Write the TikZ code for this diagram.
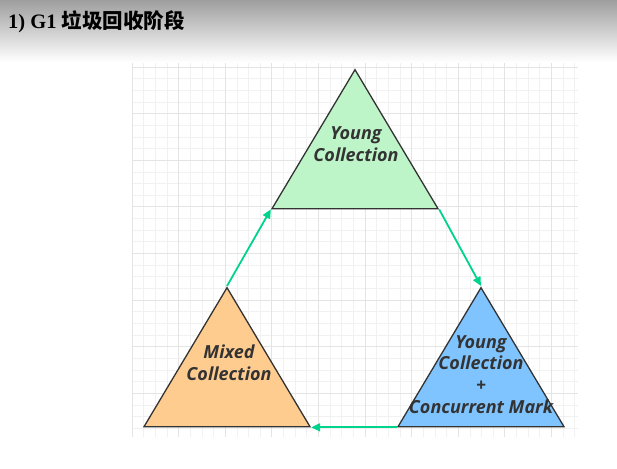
\documentclass[tikz,border=0pt]{standalone}
\usepackage{fontspec}
\setmainfont{Liberation Serif}
\newfontfamily\phasefont{Open Sans}
\newfontfamily\cjkfont{Noto Sans CJK SC}
\usetikzlibrary{arrows.meta,shapes.geometric}
\definecolor{youngfill}{RGB}{190,245,200}
\definecolor{mixedfill}{RGB}{255,204,143}
\definecolor{markfill}{RGB}{128,196,255}
\definecolor{flowgreen}{RGB}{0,212,140}
\definecolor{textdark}{RGB}{51,51,51}
\definecolor{gridminor}{RGB}{241,241,241}
\definecolor{gridmajor}{RGB}{228,228,228}

\begin{document}
\begin{tikzpicture}[
  x=1pt, y=-1pt,
  phase/.style={isosceles triangle, isosceles triangle stretches,
                shape border rotate=90, anchor=apex,
                draw=textdark, line width=1.3pt,
                minimum width=166pt, minimum height=139pt, inner sep=0pt},
  lbl/.style={font=\phasefont\bfseries\itshape\fontsize{18}{21.7}\selectfont,
              text=textdark, align=center},
  flow/.style={-{Triangle[length=9pt,width=8pt]}, line width=1.8pt, flowgreen}
]
\useasboundingbox (0,0) rectangle (617,468);
\fill[top color=black!38, bottom color=white] (0,0) rectangle (617,62);
\node[anchor=west, inner sep=0pt, font=\bfseries\fontsize{20.5}{24}\selectfont] (title)
  at (8,22) {1) G1 {\cjkfont 垃圾回收阶段}};

% background grid
\begin{scope}[shift={(132,67)}]
\draw[gridminor, line width=0.7pt, step=11.65pt] (0,-4) grid (446,370);
\draw[gridmajor, line width=0.7pt, step=46.6pt] (0,-4) grid (446,370);
\end{scope}

\node[phase, fill=youngfill] (young) at (355,68) {};
\node[phase, fill=markfill]  (mark)  at (481,286) {};
\node[phase, fill=mixedfill] (mixed) at (227,286) {};

\node[lbl] (youngtext) at (356,144)   {Young\\Collection};
\node[lbl] (marktext)  at (481,374.5) {Young\\Collection\\+\\Concurrent Mark};
\node[lbl] (mixedtext) at (229,363)   {Mixed\\Collection};

\draw[flow] (mixed.apex)        -- (young.left corner);
\draw[flow] (young.right corner) -- (mark.apex);
\draw[flow] (mark.left corner)   -- (mixed.right corner);
\end{tikzpicture}
\end{document}
